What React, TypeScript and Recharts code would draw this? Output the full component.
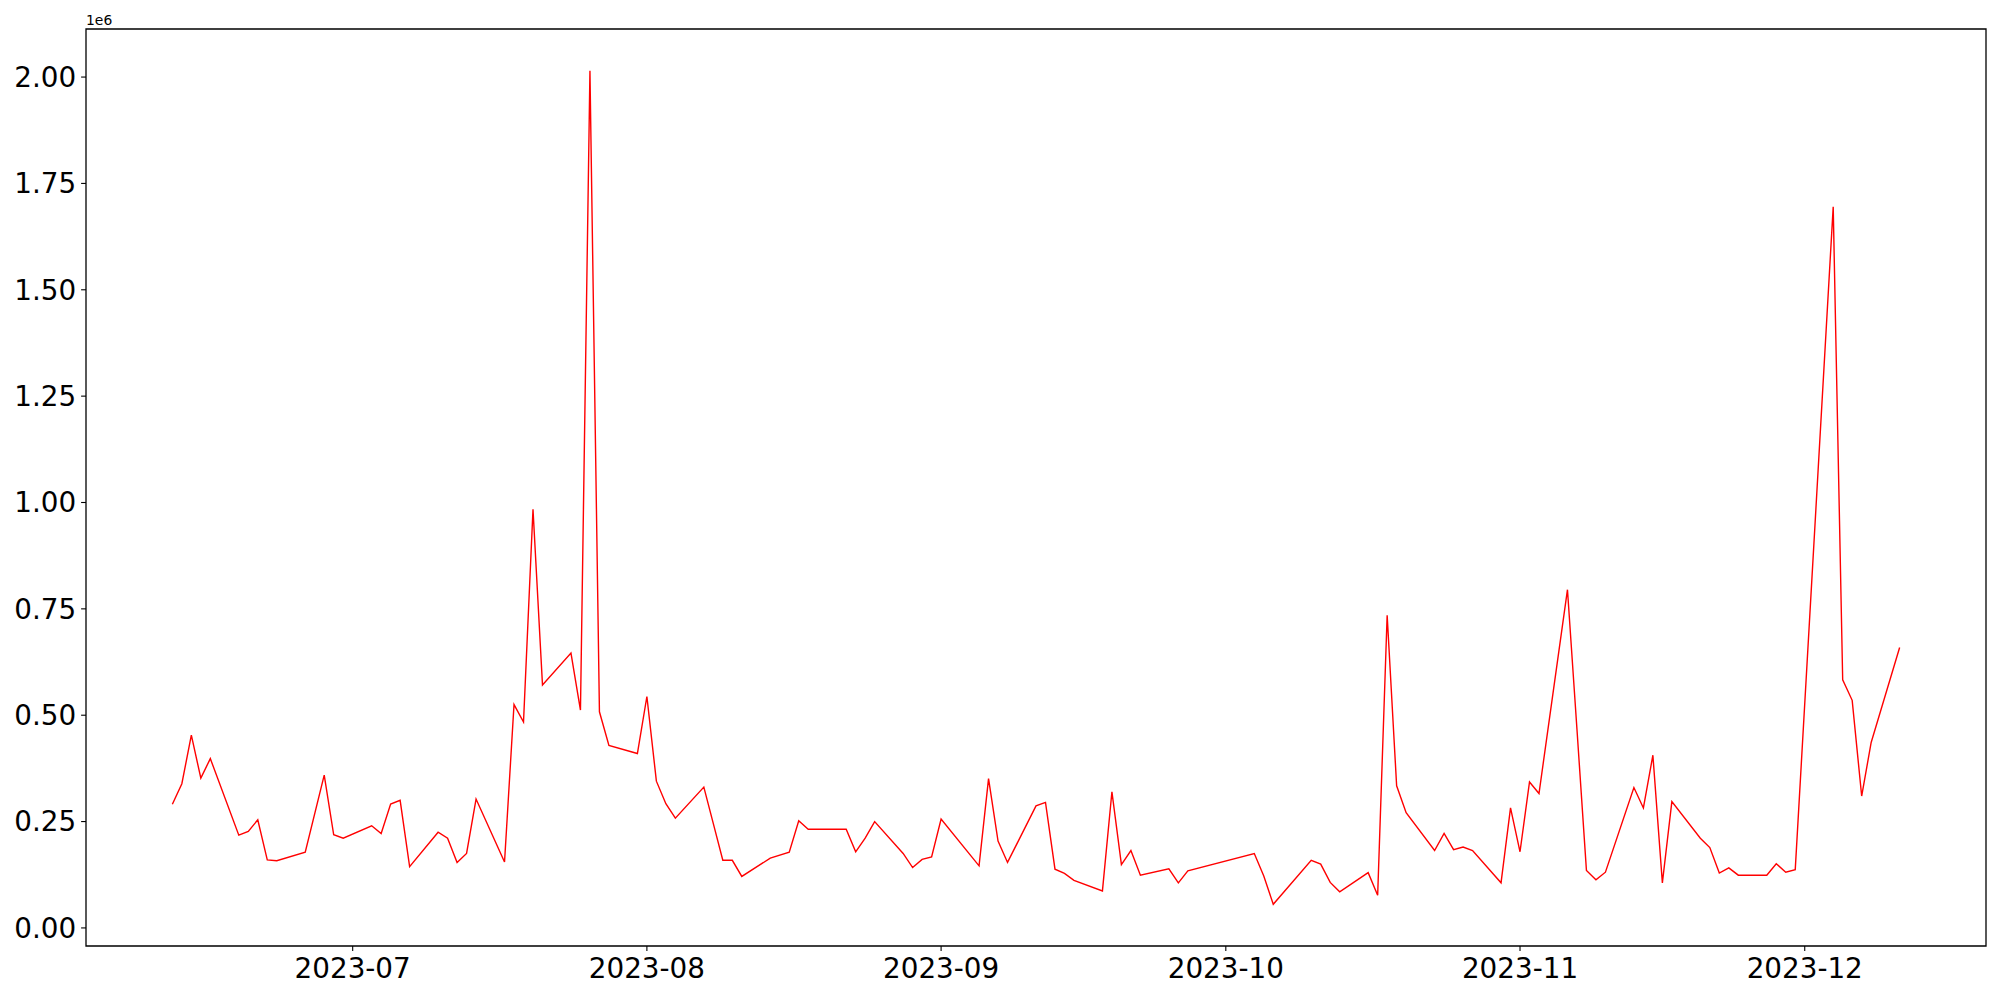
import React from 'react';
import { LineChart, Line, XAxis, YAxis, ReferenceArea } from 'recharts';

// trading days and values
const dates = [
  '2023-06-12', '2023-06-13', '2023-06-14', '2023-06-15', '2023-06-16',
  '2023-06-19', '2023-06-20', '2023-06-21', '2023-06-22', '2023-06-23',
  '2023-06-26', '2023-06-28', '2023-06-29', '2023-06-30',
  '2023-07-03', '2023-07-04', '2023-07-05', '2023-07-06', '2023-07-07',
  '2023-07-10', '2023-07-11', '2023-07-12', '2023-07-13', '2023-07-14',
  '2023-07-17', '2023-07-18', '2023-07-19', '2023-07-20', '2023-07-21',
  '2023-07-24', '2023-07-25', '2023-07-26', '2023-07-27', '2023-07-28',
  '2023-07-31', '2023-08-01', '2023-08-02', '2023-08-03', '2023-08-04',
  '2023-08-07', '2023-08-08', '2023-08-09', '2023-08-10', '2023-08-11',
  '2023-08-14', '2023-08-16', '2023-08-17', '2023-08-18',
  '2023-08-22', '2023-08-23', '2023-08-24', '2023-08-25',
  '2023-08-28', '2023-08-29', '2023-08-30', '2023-08-31', '2023-09-01',
  '2023-09-05', '2023-09-06', '2023-09-07', '2023-09-08',
  '2023-09-11', '2023-09-12', '2023-09-13', '2023-09-14', '2023-09-15',
  '2023-09-18', '2023-09-19', '2023-09-20', '2023-09-21', '2023-09-22',
  '2023-09-25', '2023-09-26', '2023-09-27',
  '2023-10-04', '2023-10-05', '2023-10-06',
  '2023-10-10', '2023-10-11', '2023-10-12', '2023-10-13',
  '2023-10-16', '2023-10-17', '2023-10-18', '2023-10-19', '2023-10-20',
  '2023-10-23', '2023-10-24', '2023-10-25', '2023-10-26', '2023-10-27',
  '2023-10-30', '2023-10-31', '2023-11-01', '2023-11-02', '2023-11-03',
  '2023-11-06', '2023-11-07', '2023-11-08', '2023-11-09', '2023-11-10',
  '2023-11-13', '2023-11-14', '2023-11-15', '2023-11-16', '2023-11-17',
  '2023-11-20', '2023-11-21', '2023-11-22', '2023-11-23', '2023-11-24',
  '2023-11-27', '2023-11-28', '2023-11-29', '2023-11-30',
  '2023-12-04', '2023-12-05', '2023-12-06', '2023-12-07', '2023-12-08',
  '2023-12-11',
];

const volumes = [
  290600, 339000, 453000, 352000, 398000,
  218000, 227000, 254000, 160000, 158000,
  178000, 359000, 219000, 211000,
  240000, 222000, 291000, 300000, 144000,
  225000, 211000, 154000, 175000, 303000,
  155000, 525000, 484000, 984000, 571000,
  646000, 512000, 2015000, 508000, 429000,
  410000, 544000, 345000, 292000, 258000,
  331000, 245000, 159000, 159000, 121000,
  164000, 178000, 252000, 232000,
  232000, 179000, 211000, 250000,
  175000, 142000, 161000, 167000, 256000,
  146000, 351000, 204000, 154000,
  287000, 295000, 138000, 128000, 112000,
  87000, 320000, 149000, 182000, 124000,
  139000, 106000, 134000,
  175000, 122000, 55500,
  159000, 150000, 107000, 85000,
  130000, 77000, 735000, 334000, 271000,
  182000, 222000, 184000, 190000, 182000,
  106000, 282000, 179000, 343000, 316000,
  795000, 467000, 135000, 113000, 131000,
  330000, 282000, 406000, 106000, 297000,
  211000, 189000, 129000, 141000, 124000,
  124000, 151000, 131000, 137000,
  1695000, 583000, 535000, 310000, 436000,
  659000,
];

const monthTicks = ['2023-07-01', '2023-08-01', '2023-09-01', '2023-10-01', '2023-11-01', '2023-12-01'];
const valueTicks = [0, 250000, 500000, 750000, 1000000, 1250000, 1500000, 1750000, 2000000];

const toMs = (d: string) => Date.parse(d + 'T00:00:00Z');
const data = dates.map((d, i) => ({ t: toMs(d), v: volumes[i] }));

// matplotlib-style 5% margins
const tMin = data[0].t;
const tMax = data[data.length - 1].t;
const tPad = (tMax - tMin) * 0.05;
const xDomain: [number, number] = [tMin - tPad, tMax + tPad];
const vMin = Math.min(...volumes);
const vMax = Math.max(...volumes);
const vPad = (vMax - vMin) * 0.05;
const yDomain: [number, number] = [vMin - vPad, vMax + vPad];

const FONT = 'DejaVu Sans';
const tickStyle = { fill: '#000', fontSize: 27.8, fontFamily: FONT };

export default function App() {
  return (
    <div style={{ position: 'absolute', left: 0, top: 0, width: 2000, height: 1000, background: '#fff' }}>
      <LineChart width={2000} height={1000} data={data} margin={{ top: 29, right: 14, left: 0, bottom: 0 }}>
        <XAxis
          dataKey="t"
          type="number"
          domain={xDomain}
          allowDataOverflow
          ticks={monthTicks.map(toMs)}
          tickFormatter={(t: number) => new Date(t).toISOString().slice(0, 7)}
          height={54}
          axisLine={false}
          tickLine={{ stroke: '#000', strokeWidth: 1.1 }}
          tickSize={4.9}
          tickMargin={7.5}
          tick={tickStyle}
        />
        <YAxis
          dataKey="v"
          type="number"
          domain={yDomain}
          allowDataOverflow
          ticks={valueTicks}
          tickFormatter={(v: number) => (v / 1e6).toFixed(2)}
          width={86}
          axisLine={false}
          tickLine={{ stroke: '#000', strokeWidth: 1.1 }}
          tickSize={4.9}
          tickMargin={4.9}
          tick={tickStyle}
        />
        <ReferenceArea
          x1={xDomain[0]}
          x2={xDomain[1]}
          y1={yDomain[0]}
          y2={yDomain[1]}
          fill="none"
          stroke="#000"
          strokeWidth={1.3}
          ifOverflow="visible"
        />
        <Line
          type="linear"
          dataKey="v"
          stroke="#ff0000"
          strokeWidth={1.4}
          dot={false}
          isAnimationActive={false}
        />
      </LineChart>
      <svg width={200} height={29} style={{ position: 'absolute', left: 0, top: 0 }}>
        <text x={86} y={25} fontFamily={FONT} fontSize={13.9} fill="#000">1e6</text>
      </svg>
    </div>
  );
}
